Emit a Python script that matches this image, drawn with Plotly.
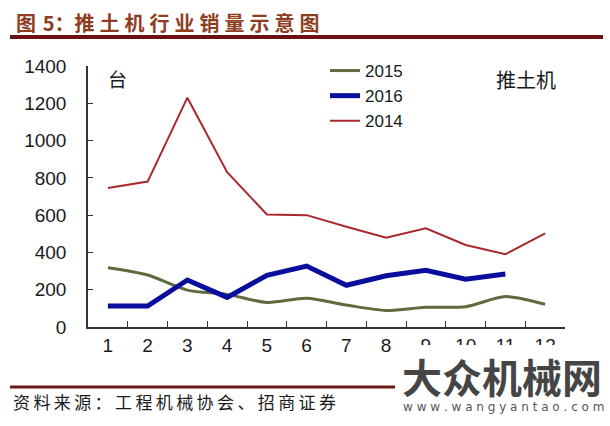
import plotly.graph_objects as go

months = [str(i) for i in range(1, 13)]
sales_2015 = [318, 279, 198, 175, 132, 154, 118, 89, 106, 109, 163, 122]
sales_2016 = [112, 112, 252, 159, 277, 327, 224, 275, 304, 256, 284]
sales_2014 = [746, 780, 1230, 830, 604, 600, 538, 479, 529, 440, 390, 502]
y_ticks = [0, 200, 400, 600, 800, 1000, 1200, 1400]

W, H = 610, 426
L, R, T, B = 88, 45, 66, 99
PW, PH = W - L - R, H - T - B

def px(x):
    return (x - L) / PW

def py(y):
    return (H - B - y) / PH

fig = go.Figure()
fig.add_trace(go.Scatter(x=months, y=sales_2015, name="2015", mode="lines",
                         line=dict(color="#5E6B3E", width=3, shape="spline", smoothing=0.8)))
fig.add_trace(go.Scatter(x=months[:len(sales_2016)], y=sales_2016, name="2016", mode="lines",
                         line=dict(color="#0A0E9C", width=5)))
fig.add_trace(go.Scatter(x=months, y=sales_2014, name="2014", mode="lines",
                         line=dict(color="#A8282E", width=2)))

tickfont = dict(family="Liberation Sans, Arial, sans-serif", size=19, color="#1a1a1a")
fig.update_layout(
    width=W, height=H,
    margin=dict(l=L, r=R, t=T, b=B),
    paper_bgcolor="white", plot_bgcolor="white",
    showlegend=True,
    legend=dict(x=px(325), y=py(53), xanchor="left", yanchor="top",
                font=dict(family="Liberation Sans, Arial, sans-serif", size=17, color="#1a1a1a"),
                bgcolor="rgba(0,0,0,0)", traceorder="normal", tracegroupgap=0,
                itemwidth=30),
    xaxis=dict(type="category", categoryorder="array", categoryarray=months,
               range=[-0.5, 11.5], tickson="boundaries", ticks="inside", ticklen=6,
               tickcolor="#333", showline=True, linecolor="#333", linewidth=1.5,
               showgrid=False, zeroline=False, tickfont=tickfont, ticklabelstandoff=0),
    yaxis=dict(range=[0, 1400], tickvals=y_ticks, ticks="inside", ticklen=5,
               tickcolor="#333", showline=True, linecolor="#333", linewidth=1.5,
               showgrid=False, zeroline=False, tickfont=tickfont, ticklabelstandoff=16),
)

cjk = "Noto Sans CJK SC"
sp = "\u2005"
title_text = "图\u2004" + "5：" + sp.join("推土机行业销量示意图")
src_text = "\u2009".join("资料来源：工程机械协会、招商证券")

annotations = [
    dict(text="<b>" + title_text + "</b>", x=px(14), y=py(23), xanchor="left", yanchor="middle",
         font=dict(family=cjk, size=20, color="#8E3D1E")),
    dict(text="台", x=px(106), y=py(78), xanchor="left", yanchor="middle",
         font=dict(family=cjk, size=19, color="#1a1a1a")),
    dict(text="推土机", x=px(494), y=py(79), xanchor="left", yanchor="middle",
         font=dict(family=cjk, size=20, color="#1a1a1a")),
    dict(text=src_text, x=px(11), y=py(401), xanchor="left", yanchor="middle",
         font=dict(family=cjk, size=17, color="#1a1a1a")),
    dict(text="<b>大众机械网</b>", x=px(400), y=py(376), xanchor="left", yanchor="middle",
         font=dict(family=cjk, size=40, color="#454545")),
    dict(text=" ".join("www.wangyantao.com"), x=px(401), y=py(407), xanchor="left", yanchor="middle",
         font=dict(family="DejaVu Sans, sans-serif", size=12, color="#555555")),
]
for a in annotations:
    a.update(xref="paper", yref="paper", showarrow=False)
fig.update_layout(annotations=annotations)

shapes = [
    dict(type="rect", x0=px(398), x1=px(610), y0=py(345), y1=py(426),
         fillcolor="white", line=dict(width=0), layer="above"),
    dict(type="line", x0=px(10), x1=px(603), y0=py(37), y1=py(37),
         line=dict(color="#6B1014", width=4)),
    dict(type="line", x0=px(10), x1=px(395), y0=py(387), y1=py(387),
         line=dict(color="#6B1A1A", width=3)),
]
for s in shapes:
    s.update(xref="paper", yref="paper")
fig.update_layout(shapes=shapes)

fig.write_html("out.html")
